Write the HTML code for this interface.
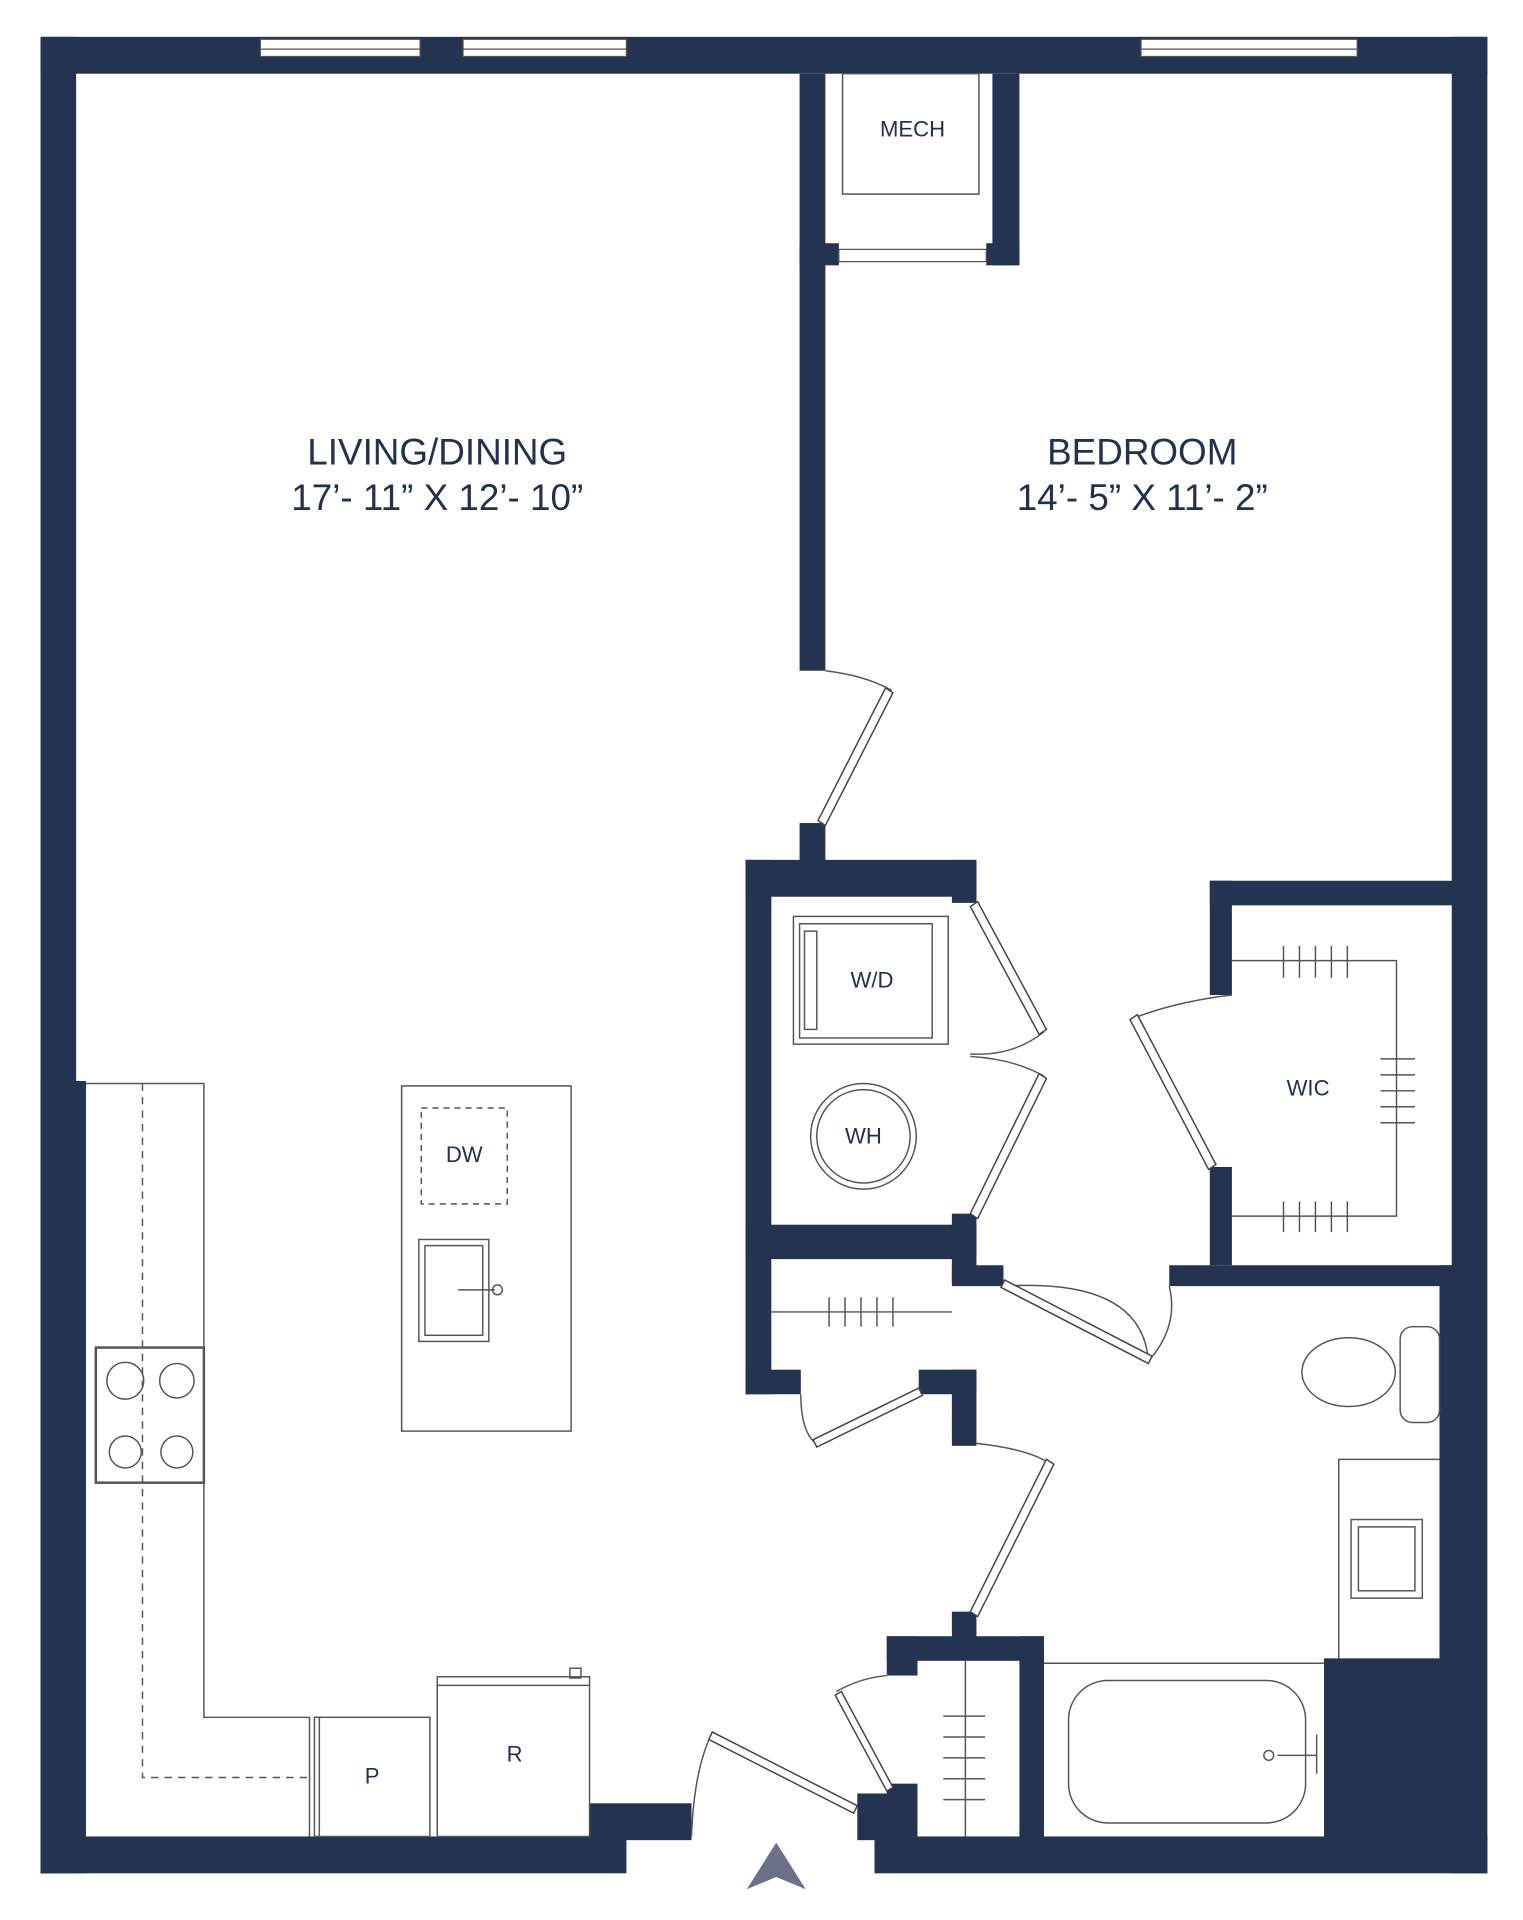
<!DOCTYPE html>
<html><head><meta charset="utf-8"><style>
html,body{margin:0;padding:0;background:#fff;width:1523px;height:1920px;overflow:hidden}
svg{display:block}
text{font-family:"Liberation Sans",sans-serif;fill:#22314f}
</style></head><body>
<svg width="1523" height="1920" viewBox="0 0 1240 1563" preserveAspectRatio="none">
<g fill="#24334f">
<rect x="33" y="30" width="1178" height="30"/>
<rect x="33" y="30" width="29" height="1495"/>
<rect x="33" y="880" width="37" height="645"/>
<rect x="1182" y="30" width="29" height="1495"/>
<rect x="33" y="1495" width="477" height="30"/>
<rect x="480" y="1468" width="83" height="30"/>
<rect x="712" y="1495" width="499" height="30"/>
<rect x="698" y="1460" width="48" height="38"/>
<rect x="651" y="60" width="21" height="486"/>
<rect x="651" y="670" width="21" height="40"/>
<rect x="808" y="60" width="22" height="156"/>
<rect x="651" y="198" width="32" height="18"/>
<rect x="803" y="198" width="27" height="18"/>
<rect x="607" y="700" width="188" height="30"/>
<rect x="775" y="700" width="20" height="35"/>
<rect x="607" y="700" width="21" height="435"/>
<rect x="607" y="997" width="188" height="28"/>
<rect x="775" y="988" width="20" height="57"/>
<rect x="775" y="1030" width="42" height="17"/>
<rect x="607" y="1115" width="45" height="20"/>
<rect x="748" y="1115" width="47" height="20"/>
<rect x="775" y="1115" width="20" height="62"/>
<rect x="985" y="717" width="210" height="20"/>
<rect x="985" y="717" width="18" height="93"/>
<rect x="985" y="950" width="18" height="80"/>
<rect x="952" y="1030" width="240" height="17"/>
<rect x="1172" y="1030" width="25" height="330"/>
<rect x="775" y="1312" width="20" height="22"/>
<rect x="722" y="1332" width="128" height="20"/>
<rect x="722" y="1332" width="25" height="32"/>
<rect x="830" y="1332" width="20" height="165"/>
<rect x="722" y="1452" width="25" height="45"/>
<rect x="1078" y="1350" width="115" height="148"/>
</g>
<g fill="#fff" stroke="#555" stroke-width="1">
<rect x="212" y="32" width="130" height="14"/><line x1="212" y1="40" x2="342" y2="40"/>
<rect x="377" y="32" width="133" height="14"/><line x1="377" y1="40" x2="510" y2="40"/>
<rect x="929" y="32" width="176" height="14"/><line x1="929" y1="40" x2="1105" y2="40"/>
<rect x="683" y="203" width="120" height="10"/>
</g>
<g fill="none" stroke="#555" stroke-width="1.2">
<rect x="686" y="60" width="111" height="98"/>
<polyline points="70,882 166,882 166,1398 252,1398 252,1495"/>
<polyline points="116,882 116,1447 252,1447" stroke-dasharray="6,5"/>
<rect x="78" y="1097" width="88" height="110" stroke-width="2"/>
<circle cx="102" cy="1124" r="15"/><circle cx="144" cy="1124" r="14"/>
<circle cx="102" cy="1182" r="13"/><circle cx="144" cy="1182" r="13"/>
<rect x="256" y="1398" width="94" height="97"/>
<line x1="260" y1="1398" x2="260" y2="1495"/>
<rect x="356" y="1365" width="124" height="130"/>
<line x1="356" y1="1372" x2="480" y2="1372"/>
<rect x="464" y="1358" width="9" height="8"/>
<rect x="327" y="884" width="138" height="281"/>
<rect x="343" y="902" width="70" height="78" stroke-dasharray="5,4"/>
<rect x="341" y="1009" width="57" height="83"/><rect x="346" y="1014" width="47" height="73"/>
<line x1="373" y1="1050" x2="403" y2="1050"/><circle cx="405" cy="1050" r="4"/>
<rect x="646" y="746" width="126" height="104"/>
<rect x="651" y="752" width="108" height="93"/>
<rect x="655" y="758" width="10" height="80"/>
<circle cx="703" cy="925" r="43"/><circle cx="703" cy="925" r="38"/>
<line x1="628" y1="1068" x2="775" y2="1068"/>
<line x1="675" y1="1056" x2="675" y2="1080"/><line x1="688" y1="1056" x2="688" y2="1080"/><line x1="701" y1="1056" x2="701" y2="1080"/><line x1="714" y1="1056" x2="714" y2="1080"/><line x1="727" y1="1056" x2="727" y2="1080"/>
<polyline points="1003,782 1137,782 1137,990 1003,990"/>
<g><line x1="1045" y1="770" x2="1045" y2="796"/><line x1="1058" y1="770" x2="1058" y2="796"/><line x1="1071" y1="770" x2="1071" y2="796"/><line x1="1084" y1="770" x2="1084" y2="796"/><line x1="1097" y1="770" x2="1097" y2="796"/>
<line x1="1045" y1="978" x2="1045" y2="1003"/><line x1="1058" y1="978" x2="1058" y2="1003"/><line x1="1071" y1="978" x2="1071" y2="1003"/><line x1="1084" y1="978" x2="1084" y2="1003"/><line x1="1097" y1="978" x2="1097" y2="1003"/>
<line x1="1124" y1="862" x2="1152" y2="862"/><line x1="1124" y1="875" x2="1152" y2="875"/><line x1="1124" y1="888" x2="1152" y2="888"/><line x1="1124" y1="901" x2="1152" y2="901"/><line x1="1124" y1="914" x2="1152" y2="914"/></g>
<ellipse cx="1098" cy="1117" rx="38" ry="28"/>
<rect x="1140" y="1080" width="32" height="78" rx="10"/>
<polyline points="1172,1188 1090,1188 1090,1350"/>
<rect x="1100" y="1237" width="58" height="64"/><rect x="1106" y="1243" width="46" height="52"/>
<line x1="850" y1="1354" x2="1078" y2="1354"/>
<rect x="870" y="1368" width="193" height="116" rx="32"/>
<circle cx="1033" cy="1429" r="4"/><line x1="1040" y1="1429" x2="1072" y2="1429"/><line x1="1072" y1="1412" x2="1072" y2="1444"/>
<line x1="786" y1="1352" x2="786" y2="1495"/>
<line x1="768" y1="1397" x2="802" y2="1397"/><line x1="768" y1="1414" x2="802" y2="1414"/><line x1="768" y1="1431" x2="802" y2="1431"/><line x1="768" y1="1448" x2="802" y2="1448"/><line x1="768" y1="1465" x2="802" y2="1465"/>
<path d="M672,546 Q705,550 726,562"/>
<path d="M790,858 Q825,860 850,840"/>
<path d="M790,860 Q825,862 850,876"/>
<path d="M1003,810 Q960,815 925,828"/>
<path d="M817,1047 Q930,1040 935,1108"/>
<path d="M652,1135 Q652,1165 664,1175"/>
<path d="M795,1175 Q840,1180 855,1192"/>
<path d="M722,1364 Q700,1366 681,1377"/>
<path d="M563,1495 Q565,1440 580,1410"/>
<path d="M952,1047 Q960,1080 935,1108"/>
</g>
<g fill="#fff" stroke="#444" stroke-width="1.2">
<polygon points="666,668 721,560 727,564 672,672"/>
<polygon points="790,738 846,842 852,838 796,734"/>
<polygon points="790,988 846,874 852,878 796,992"/>
<polygon points="990,948 926,826 920,830 984,952"/>
<polygon points="818,1042 938,1104 935,1110 815,1048"/>
<polygon points="662,1172 748,1130 751,1136 665,1178"/>
<polygon points="790,1312 852,1188 858,1192 796,1316"/>
<polygon points="680,1380 722,1458 727,1455 685,1377"/>
<polygon points="580,1410 698,1470 695,1476 577,1416"/>
</g>
<polygon points="608,1538 632,1500 656,1538 632,1528" fill="#6d7188"/>
<text x="356" y="378" font-size="30" text-anchor="middle">LIVING/DINING</text>
<text x="356" y="415" font-size="30" text-anchor="middle">17’- 11” X 12’- 10”</text>
<text x="930" y="378" font-size="30" text-anchor="middle">BEDROOM</text>
<text x="930" y="415" font-size="30" text-anchor="middle">14’- 5” X 11’- 2”</text>
<text x="743" y="111" font-size="18" text-anchor="middle">MECH</text>
<text x="710" y="804" font-size="18" text-anchor="middle">W/D</text>
<text x="703" y="931" font-size="18" text-anchor="middle">WH</text>
<text x="1065" y="892" font-size="18" text-anchor="middle">WIC</text>
<text x="378" y="946" font-size="18" text-anchor="middle">DW</text>
<text x="303" y="1452" font-size="18" text-anchor="middle">P</text>
<text x="419" y="1434" font-size="18" text-anchor="middle">R</text>
</svg>
</body></html>
